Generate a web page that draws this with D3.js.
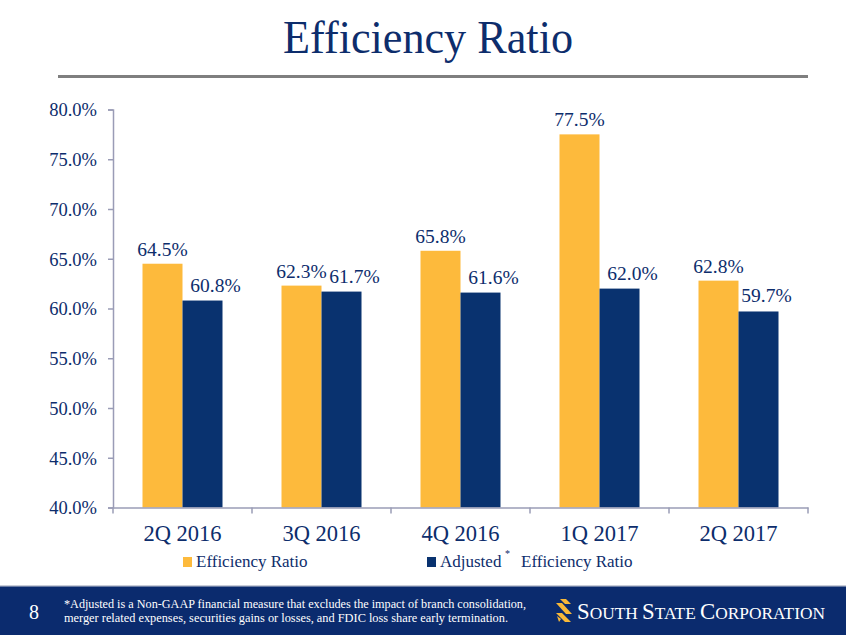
<!DOCTYPE html>
<html><head><meta charset="utf-8">
<script src="https://cdn.jsdelivr.net/npm/d3@7"></script>
<style>
html,body{margin:0;padding:0;background:#fff;}
svg{display:block;}
</style></head>
<body>
<script>
const categories = ["2Q 2016","3Q 2016","4Q 2016","1Q 2017","2Q 2017"];
const efficiencyRatio = [64.5, 62.3, 65.8, 77.5, 62.8];
const adjustedRatio = [60.8, 61.7, 61.6, 62.0, 59.7];
const yTicks = [40,45,50,55,60,65,70,75,80];
const seriesNames = ["Efficiency Ratio","Adjusted"];

const W = 846, H = 635;
const navyText = "#0d2d6c", yellow = "#FDBA3C", navy = "#09326F";
const serif = "'Liberation Serif','DejaVu Serif',serif";

const svg = d3.select("body").append("svg").attr("width", W).attr("height", H);

// Title
svg.append("text").attr("x", 428).attr("y", 53).attr("text-anchor","middle")
  .attr("font-family", serif).attr("font-size", 46).attr("fill", navyText)
  .attr("textLength", 290).attr("lengthAdjust","spacingAndGlyphs")
  .text("Efficiency Ratio");
svg.append("rect").attr("x",58).attr("y",75).attr("width",750).attr("height",3).attr("fill","#7f7f7f");

// Scales
const x = d3.scaleBand().domain(categories).range([113, 808]).padding(0);
const y = d3.scaleLinear().domain([40, 80]).range([507.5, 109.5]);
const barW = 40;
const xs = d3.scaleBand().domain(seriesNames).range([0, barW*2]);

const axisColor = "#9a9cb6";
// Y axis
const yAxis = svg.append("g").attr("transform","translate(113,0)")
  .call(d3.axisLeft(y).tickValues(yTicks).tickSize(5).tickPadding(11).tickFormat(d => d.toFixed(1) + "%"));
yAxis.select(".domain").attr("stroke", axisColor).attr("stroke-width", 1.5);
yAxis.selectAll(".tick line").attr("stroke", axisColor).attr("stroke-width", 1.5);
yAxis.selectAll("text").attr("font-family", serif).attr("font-size", 18.5).attr("fill", navyText).attr("dy","0.35em");

// Bars
const groups = svg.append("g").selectAll("g").data(categories).join("g")
  .attr("transform", d => `translate(${x(d) + x.bandwidth()/2 - barW},0)`);
groups.append("rect").attr("x", xs(seriesNames[0])).attr("width", xs.bandwidth())
  .attr("y", (d,i) => y(efficiencyRatio[i])).attr("height", (d,i) => y(40) - y(efficiencyRatio[i]))
  .attr("fill", yellow);
groups.append("rect").attr("x", xs(seriesNames[1])).attr("width", xs.bandwidth())
  .attr("y", (d,i) => y(adjustedRatio[i])).attr("height", (d,i) => y(40) - y(adjustedRatio[i]))
  .attr("fill", navy);

// Value labels
groups.append("text").attr("x", xs(seriesNames[0]) + xs.bandwidth()/2)
  .attr("y", (d,i) => y(efficiencyRatio[i]) - 8).attr("text-anchor","middle")
  .attr("font-family", serif).attr("font-size", 19.5).attr("fill", navyText)
  .text((d,i) => efficiencyRatio[i].toFixed(1) + "%");
groups.append("text").attr("x", (d,i) => xs(seriesNames[1]) + xs.bandwidth()/2 + (i === categories.length-1 ? 8 : 13))
  .attr("y", (d,i) => y(adjustedRatio[i]) - 9).attr("text-anchor","middle")
  .attr("font-family", serif).attr("font-size", 19.5).attr("fill", navyText)
  .text((d,i) => adjustedRatio[i].toFixed(1) + "%");

// X axis
const xAxis = svg.append("g").attr("transform", `translate(0,${y(40)})`)
  .call(d3.axisBottom(x).tickSize(0).tickPadding(22));
xAxis.select(".domain").attr("stroke", axisColor).attr("stroke-width", 1.5);
xAxis.selectAll("text").attr("font-family", serif).attr("font-size", 22.5).attr("fill", navyText).attr("dy","0.5em");
const bounds = categories.map(c => x(c)).concat([x(categories[categories.length-1]) + x.bandwidth()]);
xAxis.selectAll(".bt").data(bounds).join("line").attr("class","bt")
  .attr("x1", d=>d).attr("x2", d=>d).attr("y1",0).attr("y2",6)
  .attr("stroke", axisColor).attr("stroke-width",1.5);

// Legend
const leg = svg.append("g").attr("font-family", serif).attr("font-size", 17).attr("fill", navyText);
leg.append("rect").attr("x",183).attr("y",557).attr("width",9).attr("height",10).attr("fill",yellow);
leg.append("text").attr("x",196).attr("y",567).text(seriesNames[0]);
leg.append("rect").attr("x",427).attr("y",557).attr("width",9).attr("height",10).attr("fill",navy);
leg.append("text").attr("x",440).attr("y",567).text(seriesNames[1]);
leg.append("text").attr("x",505).attr("y",557).attr("font-size",10).text("*");
leg.append("text").attr("x",521).attr("y",567).text("Efficiency Ratio");

// Footer
svg.append("rect").attr("x",0).attr("y",586).attr("width",W).attr("height",H-586).attr("fill","#0b2b6e");
svg.append("rect").attr("x",0).attr("y",585).attr("width",W).attr("height",1.5).attr("fill","#c9cdd8");
svg.append("text").attr("x",34).attr("y",619).attr("text-anchor","middle")
  .attr("font-family", serif).attr("font-size",20).attr("fill","#fff").text("8");
const foot = svg.append("g").attr("font-family", serif).attr("font-size",12).attr("fill","#fff");
foot.append("text").attr("x",64).attr("y",608).attr("textLength",462).attr("lengthAdjust","spacingAndGlyphs")
  .text("*Adjusted is a Non-GAAP financial measure that excludes the impact of branch consolidation,");
foot.append("text").attr("x",64).attr("y",622).attr("textLength",444).attr("lengthAdjust","spacingAndGlyphs")
  .text("merger related expenses, securities gains or losses, and FDIC loss share early termination.");

// Logo
const logo = svg.append("g").attr("fill","#F8B838");
logo.append("path").attr("d","M560,599 L566,599 L571,604 L565,604 Z");
logo.append("path").attr("d","M556,603 L562,603 L572,614 L566,614 Z");
logo.append("path").attr("d","M556,613 L562,613 L571,622 L565,622 Z");
logo.append("path").attr("d","M557,616 L561,619 L559,622 Z");
const lt = svg.append("text").attr("x",577).attr("y",619).attr("font-family", serif)
  .attr("fill","#fff").attr("textLength",248).attr("lengthAdjust","spacingAndGlyphs");
[["S",23],["OUTH ",17.5],["S",23],["TATE ",17.5],["C",23],["ORPORATION",17.5]].forEach(([t,s]) =>
  lt.append("tspan").attr("font-size", s).text(t));
</script>
</body></html>
